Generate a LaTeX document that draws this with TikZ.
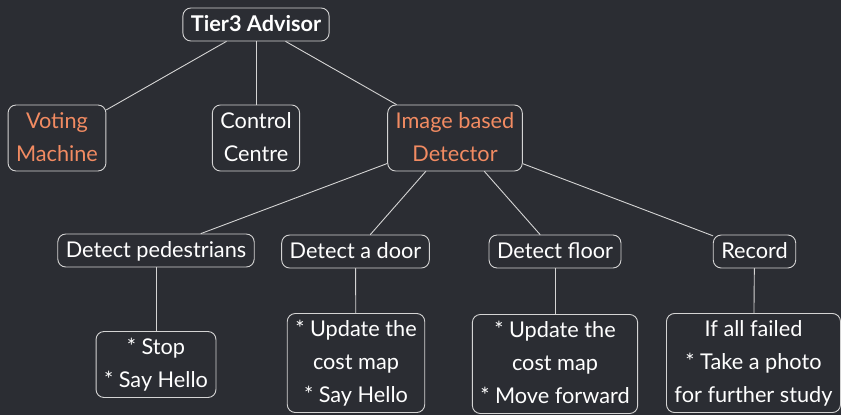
\documentclass[tikz,border=0pt]{standalone}
\usepackage{fontspec}
\setmainfont{Lato}
\usepackage{tikz}
\usetikzlibrary{arrows}

\definecolor{bgdark}{HTML}{2B2D33}
\definecolor{boxline}{HTML}{D4D4D4}
\definecolor{salmon}{HTML}{F28B62}

\tikzset{
  box/.style={draw=boxline,line width=0.9pt,rounded corners=8pt,text=white,
    align=center,inner xsep=8pt,inner ysep=0pt,
    font=\fontsize{21.7}{33}\selectfont,
    execute at end node=\strut},
  hot/.style={box,text=salmon},
  link/.style={draw=boxline,line width=0.9pt}
}

\begin{document}
\begin{tikzpicture}[line cap=round,line join=round,x=1pt,y=-1pt]
        \fill [bgdark] (0,0) rectangle (841,415);
        \clip (0,0) rectangle (841,415);
        \node [box,font=\fontsize{21.7}{33}\selectfont\bfseries] (tier) at (256,24.5) {\strut Tier3 Advisor};
        \node [hot] (voting) at (57,138) {\strut Voting\\Machine};
        \node [box] (control) at (256,138) {\strut Control\\Centre};
        \node [hot] (detector) at (455,138) {\strut Image based\\Detector};
        \node [box] (pedestrians) at (156,250.5) {\strut Detect pedestrians};
        \node [box] (door) at (355.5,251.5) {\strut Detect a door};
        \node [box] (floor) at (555,251.5) {\strut Detect floor};
        \node [box] (record) at (754.5,251.5) {\strut Record};
        \node [box] (stop) at (156,364.5) {\strut * Stop\\* Say Hello};
        \node [box] (doorjob) at (356,363) {\strut * Update the\\cost map\\* Say Hello};
        \node [box] (floorjob) at (555,364) {\strut * Update the\\cost map\\* Move forward};
        \node [box] (recordjob) at (753.5,363) {\strut If all failed\\* Take a photo\\for further study};
        \draw [link] (tier) -- (voting);
        \draw [link] (tier) -- (control);
        \draw [link] (tier) -- (detector);
        \draw [link] (detector) -- (pedestrians);
        \draw [link] (detector) -- (door);
        \draw [link] (detector) -- (floor);
        \draw [link] (detector) -- (record);
        \draw [link] (pedestrians) -- (stop);
        \draw [link] (door) -- (doorjob);
        \draw [link] (floor) -- (floorjob);
        \draw [link] (record) -- (recordjob);
    \end{tikzpicture}
\end{document}
